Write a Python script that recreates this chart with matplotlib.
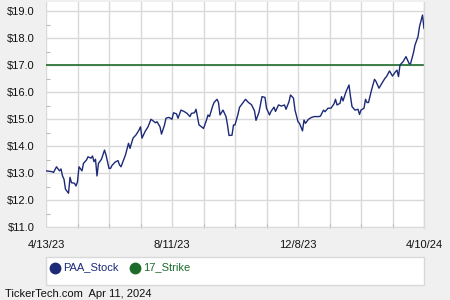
import matplotlib
matplotlib.use("Agg")
import matplotlib.pyplot as plt
from matplotlib.ticker import MultipleLocator, FixedLocator
from matplotlib.patches import Rectangle, Circle
import numpy as np

plt.rcParams['font.family'] = ['Liberation Sans', 'DejaVu Sans']

# trading-day index (0 = 4/13/23, 252 = 4/10/24) and close price
stock_idx = [0, 4, 5, 7, 9, 10, 11, 12, 13, 15, 16, 17, 19, 20, 21, 22, 24, 25, 27, 28,
             30, 31, 32, 33, 34, 35, 37, 39, 40, 42, 43, 44, 46, 48, 49, 50, 53, 55, 56, 58,
             60, 62, 63, 64, 66, 68, 70, 73, 74, 76, 77, 79, 80, 82, 84, 85, 87, 88, 90, 92,
             94, 96, 97, 99, 100, 102, 103, 105, 107, 108, 109, 111, 112, 114, 115, 116, 118, 120, 121, 122,
             124, 125, 126, 128, 129, 131, 133, 135, 137, 139, 140, 142, 144, 146, 147, 149, 150, 152, 153, 155,
             157, 159, 160, 162, 163, 165, 166, 168, 169, 171, 172, 173, 175, 177, 179, 182, 183, 185, 186, 188,
             190, 192, 193, 194, 196, 197, 198, 200, 202, 203, 204, 206, 208, 209, 210, 212, 213, 214, 215, 217,
             219, 220, 222, 224, 226, 227, 229, 231, 233, 234, 235, 236, 238, 240, 242, 243, 245, 246, 248, 249,
             251, 252]
stock_val = [13.08, 13.05, 13.02, 13.23, 13.08, 13.15, 12.89, 12.77, 12.40, 12.25, 12.84, 12.64, 12.62, 12.52, 12.68, 13.23, 13.08, 13.36, 13.48, 13.60,
             13.55, 13.63, 13.42, 13.51, 12.89, 13.36, 13.51, 13.85, 13.67, 13.17, 13.17, 13.28, 13.40, 13.46, 13.30, 13.23, 13.67, 14.10, 13.91, 14.29,
             14.41, 14.59, 14.71, 14.29, 14.53, 14.71, 14.99, 14.86, 14.90, 14.71, 14.44, 14.78, 15.03, 15.06, 14.99, 15.23, 15.19, 15.03, 15.33, 15.28,
             15.21, 15.09, 15.21, 15.23, 15.36, 14.78, 14.74, 14.65, 14.96, 15.15, 15.09, 15.46, 15.61, 15.73, 15.61, 15.15, 15.33, 15.09, 14.78, 14.39,
             14.40, 14.78, 14.78, 15.18, 15.43, 15.58, 15.73, 15.61, 15.53, 15.30, 14.95, 15.25, 15.83, 15.80, 15.40, 15.15, 15.28, 15.44, 15.28, 15.52,
             15.48, 15.52, 15.36, 15.64, 15.89, 15.77, 15.33, 14.90, 14.84, 14.56, 14.96, 14.84, 14.99, 15.06, 15.09, 15.09, 15.11, 15.33, 15.27, 15.40,
             15.40, 15.56, 15.73, 15.52, 15.58, 15.83, 15.67, 16.01, 16.26, 15.83, 15.46, 15.33, 15.36, 15.17, 15.33, 15.40, 15.73, 15.61, 15.61, 16.07,
             16.47, 16.39, 16.14, 16.33, 16.51, 16.57, 16.78, 16.59, 16.75, 16.81, 16.57, 17.00, 17.12, 17.31, 17.06, 17.04, 17.46, 17.74, 18.05, 18.42,
             18.85, 18.36]
strike = 17.0
tick_pos = [0, 84, 168, 252]
tick_labels = ["4/13/23", "8/11/23", "12/8/23", "4/10/24"]
y_ticks = [11, 12, 13, 14, 15, 16, 17, 18, 19]
legend_names = ["PAA_Stock", "17_Strike"]
footer = "TickerTech.com  Apr 11, 2024"

navy = "#1c2a78"
green = "#1d6b2b"
grid_c = "#d9d9d9"

fig = plt.figure(figsize=(4.5, 3.0), dpi=100, facecolor="#f0f0f0")
ax = fig.add_axes([46/450, 1-228/300, 378/450, 226/300])
ax.set_facecolor("white")

ax.plot(stock_idx, stock_val, color=navy, lw=1.0, zorder=3)
ax.axhline(strike, color=green, lw=1.2, zorder=2)

ax.set_xlim(0, 252)
ax.set_ylim(11 - 1/27, 19 + 9/27)
ax.xaxis.set_major_locator(FixedLocator(tick_pos))
ax.set_xticklabels(tick_labels)
ax.xaxis.set_minor_locator(MultipleLocator(21))
ax.set_yticks(y_ticks)
ax.set_yticklabels([f"${v:.1f}" for v in y_ticks])
ax.yaxis.set_minor_locator(MultipleLocator(0.5))

ax.grid(True, which="major", color=grid_c, lw=1.0)
ax.grid(True, which="minor", axis="x", color=grid_c, lw=1.0)
ax.set_axisbelow(True)

ax.tick_params(axis="both", which="major", length=0, labelsize=8, colors="#111111")
ax.tick_params(axis="y", which="major", pad=8)
ax.tick_params(axis="x", which="major", pad=9)
ax.tick_params(axis="y", which="minor", direction="in", length=3, color="#bbbbbb", width=0.8)
ax.tick_params(axis="x", which="minor", direction="in", length=3, color="#bbbbbb", width=0.8)
for s in ax.spines.values():
    s.set_color(grid_c)
    s.set_linewidth(1.0)
ax.spines["left"].set_visible(False)
ax.spines["top"].set_visible(False)
ax.spines["bottom"].set_visible(False)

# legend box
fig.patches.append(Rectangle((46/450, 1-285/300), 378/450, 28/300, transform=fig.transFigure,
                             facecolor="white", edgecolor="#d8d8d8", lw=1.0))
for (mx, tx), name, c in zip([(55, 63), (135, 143)], legend_names, [navy, green]):
    fig.lines.append(plt.Line2D([mx/450], [1-267.5/300], transform=fig.transFigure,
                                marker="o", markersize=7.5, color=c, linestyle="none"))
    fig.text(tx/450, 1-267.5/300, name, color=c, fontsize=8, va="center", ha="left")

fig.text(5/450, 1-294/300, footer, fontsize=8, color="#111111", va="center", ha="left")

fig.savefig("out.png", dpi=100, facecolor=fig.get_facecolor())
